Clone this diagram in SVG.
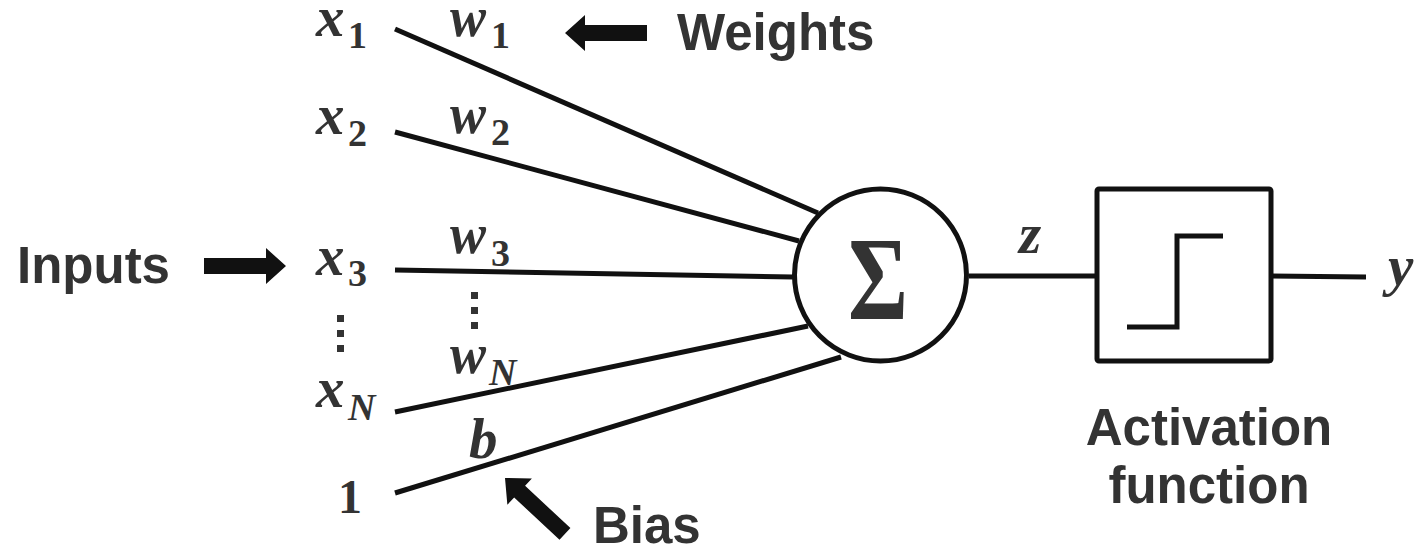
<svg xmlns="http://www.w3.org/2000/svg" width="1416" height="553" viewBox="0 0 1416 553">
<style>
.ln{stroke:#111;stroke-width:5;fill:none;stroke-linecap:butt}
.var{font-family:"Liberation Serif","Times New Roman",serif;font-weight:bold;font-style:italic;font-size:57px;fill:#333}
.one{font-family:"Liberation Serif","Times New Roman",serif;font-weight:bold;font-size:48px;fill:#333}
.sub{font-family:"Liberation Serif","Times New Roman",serif;font-weight:bold;font-size:38px;fill:#333}
.subi{font-family:"Liberation Serif","Times New Roman",serif;font-weight:bold;font-style:italic;font-size:38px;fill:#333}
.lbl{font-family:"Liberation Sans",Arial,sans-serif;font-weight:bold;font-size:51px;fill:#333}
.arr{fill:#111}
.dot{fill:#333}
</style>
<defs>
<path id="arrow" d="M0,0 L-20,-18 L-20,-8 L-82,-8 L-82,8 L-20,8 L-20,18 Z"/>
</defs>
<rect width="1416" height="553" fill="#fff"/>
<g id="connectors">
<line class="ln" x1="395" y1="29" x2="818" y2="213"/>
<line class="ln" x1="395" y1="132" x2="799" y2="241"/>
<line class="ln" x1="395" y1="270" x2="793" y2="277"/>
<line class="ln" x1="395" y1="412" x2="808" y2="326"/>
<line class="ln" x1="395" y1="493" x2="841" y2="357"/>
<line class="ln" x1="969" y1="276" x2="1097" y2="276"/>
<line class="ln" x1="1271" y1="276" x2="1366" y2="277"/>
</g>
<g id="inputs">
<text class="var" x="316" y="36">x</text><text class="sub" x="348" y="48">1</text>
<text class="var" x="316" y="134">x</text><text class="sub" x="348" y="146">2</text>
<text class="var" x="316" y="275">x</text><text class="sub" x="348" y="286">3</text>
<text class="var" x="316" y="407">x</text><text class="subi" x="348" y="420">N</text>
<text class="one" x="338" y="513">1</text>
<rect class="dot" x="337" y="315" width="7" height="7"/>
<rect class="dot" x="337" y="330" width="7" height="7"/>
<rect class="dot" x="337" y="345" width="7" height="7"/>
</g>
<g id="weights">
<text class="var" x="450" y="36" textLength="36" lengthAdjust="spacingAndGlyphs">w</text><text class="sub" x="491" y="48">1</text>
<text class="var" x="450" y="133" textLength="36" lengthAdjust="spacingAndGlyphs">w</text><text class="sub" x="491" y="145">2</text>
<text class="var" x="450" y="253" textLength="36" lengthAdjust="spacingAndGlyphs">w</text><text class="sub" x="491" y="266">3</text>
<text class="var" x="450" y="373" textLength="36" lengthAdjust="spacingAndGlyphs">w</text><text class="subi" x="489" y="385">N</text>
<text class="var" x="469" y="458">b</text>
<rect class="dot" x="471" y="292" width="7" height="7"/>
<rect class="dot" x="471" y="307" width="7" height="7"/>
<rect class="dot" x="471" y="322" width="7" height="7"/>
</g>
<g id="label-weights">
<use href="#arrow" class="arr" transform="translate(565,33) rotate(180)"/>
<text class="lbl" x="677" y="50">Weights</text>
</g>
<g id="label-inputs">
<text class="lbl" x="17" y="283" font-size="52">Inputs</text>
<use href="#arrow" class="arr" transform="translate(286,266)"/>
</g>
<g id="label-bias">
<use href="#arrow" class="arr" transform="translate(505,478) rotate(-137)"/>
<text class="lbl" x="593" y="543">Bias</text>
</g>
<g id="sum">
<circle cx="880.5" cy="275" r="86" fill="#fff" stroke="#111" stroke-width="5"/>
<text x="878" y="319" font-family="Liberation Serif,serif" font-weight="bold" font-size="118" fill="#333" text-anchor="middle" textLength="60" lengthAdjust="spacingAndGlyphs">Σ</text>
</g>
<g id="z-label">
<text class="var" x="1019" y="253">z</text>
</g>
<g id="activation">
<rect x="1097" y="189" width="174" height="172" rx="2" fill="#fff" stroke="#111" stroke-width="5"/>
<polyline class="ln" points="1127,327 1177,327 1177,236 1223,236"/>
<text class="lbl" x="1209" y="445" text-anchor="middle" font-size="52">Activation</text>
<text class="lbl" x="1209" y="503" text-anchor="middle" font-size="52">function</text>
</g>
<g id="output">
<text class="var" x="1388" y="285">y</text>
</g>
</svg>
